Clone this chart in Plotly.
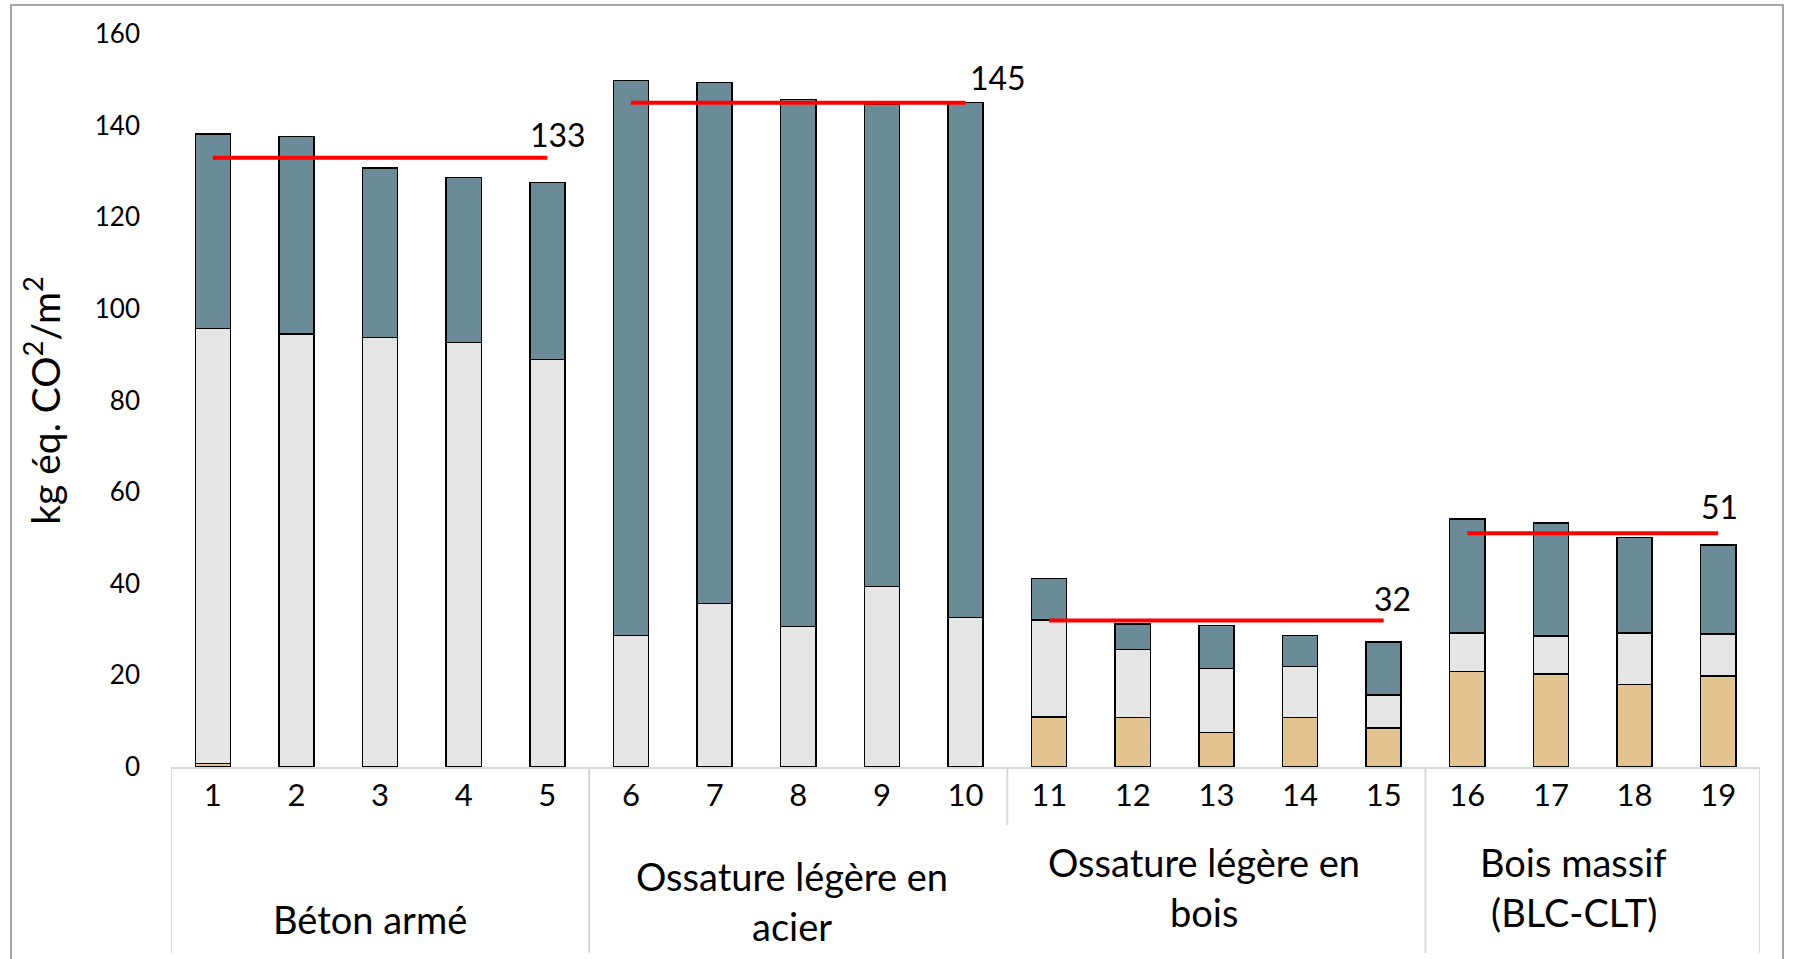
import plotly.graph_objects as go

# Case numbers and structural systems
cases = ["1", "2", "3", "4", "5", "6", "7", "8", "9", "10",
         "11", "12", "13", "14", "15", "16", "17", "18", "19"]
groups = ["Béton armé", "Ossature légère en<br>acier",
          "Ossature légère en<br>bois", "Bois massif<br>(BLC-CLT)"]
group_sizes = [5, 5, 5, 4]

# Stacked contributions, kg éq. CO2/m2 (bottom to top)
wood = [0.8, 0, 0, 0, 0, 0, 0, 0, 0, 0,
        10.9, 10.8, 7.5, 10.8, 8.5, 20.9, 20.3, 18.0, 19.9]
other = [94.9, 94.5, 93.8, 92.7, 88.9, 28.7, 35.7, 30.7, 39.4, 32.6,
         21.2, 14.8, 14.0, 11.1, 7.2, 8.3, 8.3, 11.2, 9.1]
structure = [42.5, 43.1, 36.9, 36.0, 38.7, 121.1, 113.7, 115.0, 105.2, 112.4,
             9.1, 5.6, 9.4, 6.8, 11.6, 24.9, 24.7, 20.9, 19.5]

# Group averages
averages = [133, 145, 32, 51]

y_ticks = [0, 20, 40, 60, 80, 100, 120, 140, 160]

FONT = "Lato"
W, H = 1793, 959
L, R, T, B = 171, 1760, 34, 767


def px_x(px):
    return (px - L) / (R - L)


def px_y(py):
    return (B - py) / (B - T)


xs = list(range(len(cases)))
fig = go.Figure()

for vals, color in [(wood, "#E3C390"), (other, "#E5E5E5"), (structure, "#6C8B98")]:
    fig.add_trace(go.Bar(
        x=xs, y=vals, marker=dict(color=color, line=dict(color="#000000", width=1.5)),
        showlegend=False, hoverinfo="skip",
    ))

# Group boundaries, average lines and labels
starts = [sum(group_sizes[:i]) for i in range(len(group_sizes))]
label_shift = [(11, 23), (32, 25), (9, 22), (1, 27)]
for g, (s, n) in enumerate(zip(starts, group_sizes)):
    first, last = s, s + n - 1
    fig.add_trace(go.Scatter(
        x=[first, last], y=[averages[g], averages[g]], mode="lines",
        line=dict(color="#FF0000", width=4), showlegend=False, hoverinfo="skip",
    ))
    fig.add_annotation(
        x=last, y=averages[g], text=str(averages[g]), showarrow=False,
        xshift=label_shift[g][0], yshift=label_shift[g][1],
        font=dict(family=FONT, size=32, color="#000000"),
    )

# Category separators below the axis
bounds = [-0.5] + [s + n - 0.5 for s, n in zip(starts, group_sizes)]
for i, bx in enumerate(bounds):
    bottom = 825 if i == 2 else 953
    fig.add_shape(type="line", xref="x", yref="paper", x0=bx, x1=bx,
                  y0=0, y1=px_y(bottom), line=dict(color="#D9D9D9", width=2))

# Group labels, one annotation per text line
line_pos = {1: [919], 2: [876, 926]}
label_offsets = [(-10, 0), (-6, 0), (-12, -14), (-19, -14)]
for g, (s, n) in enumerate(zip(starts, group_sizes)):
    centre = s + (n - 1) / 2
    lines = groups[g].split("<br>")
    for k, txt in enumerate(lines):
        py = line_pos[len(lines)][k] + label_offsets[g][1]
        fig.add_annotation(
            x=centre, y=px_y(py), xref="x", yref="paper", yanchor="middle",
            text=txt, showarrow=False, xshift=label_offsets[g][0],
            font=dict(family=FONT, size=38, color="#000000"),
        )

# Outer chart border
fig.add_shape(type="rect", xref="paper", yref="paper",
              x0=px_x(11), x1=px_x(1783), y0=px_y(990), y1=px_y(5),
              line=dict(color="#898989", width=1.5))

fig.update_layout(
    width=W, height=H, autosize=False,
    margin=dict(l=L, r=W - R, t=T, b=H - B, pad=0),
    barmode="stack", bargap=0.58,
    plot_bgcolor="#FFFFFF", paper_bgcolor="#FFFFFF",
    font=dict(family=FONT, color="#000000"),
    xaxis=dict(
        range=[-0.5, len(cases) - 0.5], tickvals=xs, ticktext=cases,
        showgrid=False, zeroline=False, showline=True, linecolor="#D9D9D9",
        linewidth=2, ticks="", ticklabelstandoff=0,
        tickfont=dict(family=FONT, size=31, color="#000000"),
    ),
    yaxis=dict(
        range=[0, 160], tickvals=y_ticks, showgrid=False, zeroline=False,
        showline=False, ticks="", ticklabelstandoff=30,
        tickfont=dict(family=FONT, size=26, color="#000000"),
        title=dict(text="kg éq. CO<sup>2</sup>/m<sup>2</sup>", standoff=22,
                   font=dict(family=FONT, size=39, color="#000000")),
    ),
)

fig.write_html("out.html")
